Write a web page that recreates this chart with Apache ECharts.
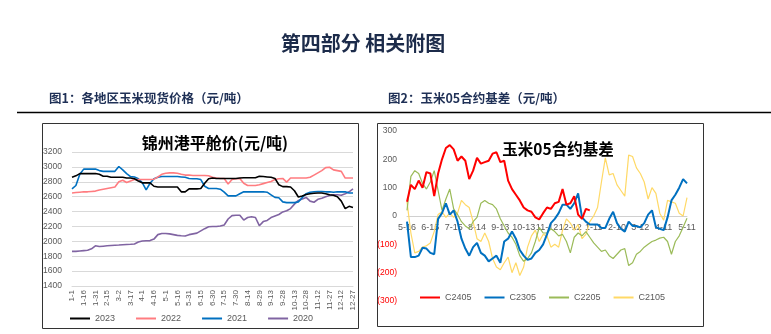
<!DOCTYPE html>
<html><head><meta charset="utf-8">
<script src="https://cdn.jsdelivr.net/npm/echarts@6/dist/echarts.min.js"></script>
<style>html,body{margin:0;padding:0;background:#fff}#c{width:771px;height:334px}</style>
</head><body><div id="c"></div>
<script>
// ---- Chart 1: 锦州港平舱价 (5-day steps) ----
const cats1 = ['1-1','1-6','1-11','1-16','1-21','1-26','1-31','2-5','2-10','2-15','2-20','2-25',
'3-2','3-7','3-12','3-17','3-22','3-27','4-1','4-6','4-11','4-16','4-21','4-26',
'5-1','5-6','5-11','5-16','5-21','5-26','5-31','6-5','6-10','6-15','6-20','6-25','6-30',
'7-5','7-10','7-15','7-20','7-25','7-30','8-4','8-9','8-14','8-19','8-24','8-29',
'9-3','9-8','9-13','9-18','9-23','9-28','10-3','10-8','10-13','10-18','10-23','10-28',
'11-2','11-7','11-12','11-17','11-22','11-27','12-2','12-7','12-12','12-17','12-22','12-27'];
const names1 = ['2023','2022','2021','2020'];
const y2023 = [2860,2880,2910,2910,2910,2910,2910,2900,2875,2875,2860,2860,2860,2860,2850,2850,2840,2810,2785,2785,2785,2740,2730,2730,2730,2730,2730,2730,2665,2665,2705,2705,2705,2710,2780,2840,2850,2845,2845,2845,2845,2845,2845,2850,2855,2855,2855,2855,2875,2870,2865,2860,2845,2760,2735,2735,2730,2680,2595,2610,2630,2640,2645,2650,2650,2640,2625,2620,2600,2540,2440,2470,2455];
const y2022 = [2650,2655,2660,2665,2665,2670,2675,2690,2700,2710,2720,2730,2800,2820,2790,2810,2830,2830,2830,2830,2830,2835,2865,2900,2915,2920,2920,2915,2900,2890,2890,2885,2885,2885,2885,2880,2860,2850,2845,2845,2770,2830,2840,2845,2780,2750,2750,2750,2760,2775,2790,2805,2830,2840,2845,2795,2850,2850,2850,2850,2850,2860,2890,2920,2950,2990,2995,2960,2950,2940,2850,2850,2850];
const y2021 = [2705,2750,2900,2970,2970,2970,2970,2950,2940,2940,2940,2940,3005,2960,2910,2870,2865,2840,2790,2690,2780,2840,2860,2870,2870,2870,2870,2870,2865,2860,2845,2840,2840,2830,2740,2710,2710,2710,2700,2660,2610,2610,2610,2640,2665,2665,2665,2665,2665,2665,2660,2625,2590,2585,2530,2520,2520,2520,2530,2590,2640,2660,2665,2670,2670,2665,2665,2660,2665,2665,2665,2650,2650];
const y2020 = [1865,1865,1870,1875,1880,1900,1940,1930,1935,1940,1945,1948,1950,1955,1958,1960,1965,1990,2005,2008,2010,2030,2090,2105,2105,2100,2090,2080,2075,2072,2090,2100,2110,2140,2170,2195,2200,2200,2205,2220,2300,2345,2350,2350,2285,2320,2330,2320,2210,2265,2280,2320,2340,2360,2395,2410,2440,2500,2550,2570,2590,2540,2525,2565,2580,2600,2615,2625,2625,2620,2640,2665,2705];
const yTicks1 = [1400,1600,1800,2000,2200,2400,2600,2800,3000,3200];

// ---- Chart 2: 玉米05合约基差 (5-day steps from 5-16) ----
const cats2 = ['5-16','5-21','5-26','5-31','6-5','6-10','6-15','6-20','6-25','6-30',
'7-5','7-10','7-15','7-20','7-25','7-30','8-4','8-9','8-14','8-19','8-24','8-29',
'9-3','9-8','9-13','9-18','9-23','9-28','10-3','10-8','10-13','10-18','10-23','10-28',
'11-2','11-7','11-12','11-17','11-22','11-27','12-2','12-7','12-12','12-17','12-22','12-27',
'1-1','1-6','1-11','1-16','1-21','1-26','1-31','2-5','2-10','2-15','2-20','2-25',
'3-2','3-7','3-12','3-17','3-22','3-27','4-1','4-6','4-11','4-16','4-21','4-26','5-1','5-6','5-11'];
const names2 = ['C2405','C2305','C2205','C2105'];
const c2405 = [50,110,95,125,100,155,150,70,150,200,240,250,235,195,210,195,130,160,205,185,190,195,220,225,190,195,125,95,75,55,30,20,15,-5,-12,10,30,25,45,50,95,40,45,70,5,-10,25,20];
const c2305 = [-20,-145,-145,-140,-112,-115,-130,-135,-10,10,45,5,20,-20,-80,-115,-140,-110,-95,-130,-140,-160,-150,-140,-165,-90,-80,-55,-80,-120,-140,-155,-150,-130,-120,-100,-65,-25,-10,10,40,40,25,45,80,-5,-20,-30,-30,-30,-42,-42,-10,15,-25,-45,-55,-20,-35,-35,-40,-25,5,20,-40,-45,-50,-5,55,75,100,130,115];
const c2205 = [20,140,160,150,115,95,120,160,90,20,60,95,25,5,-20,-35,-45,-20,-5,45,55,45,40,25,-10,-35,-60,-75,-100,-140,-160,-150,-130,-90,-40,-60,-60,-45,-55,-70,-65,-90,-130,-75,-60,-70,-55,-75,-95,-110,-125,-120,-140,-150,-135,-120,-115,-175,-165,-135,-125,-110,-100,-90,-85,-78,-75,-90,-135,-90,-70,-40,-8];
const c2105 = [50,-60,-130,-125,-110,-105,-95,-55,5,15,-5,10,-5,10,55,40,30,-20,-80,-90,-60,-90,-150,-180,-190,-165,-145,-200,-165,-210,-180,-110,-70,-50,-90,-65,-70,-110,-100,-110,-50,-10,-25,-50,-30,-80,-65,-20,0,30,120,205,145,150,110,90,70,215,210,170,150,120,60,100,80,10,-15,55,50,45,10,0,65];

const colors1 = ['#000000','#ff7c80','#0070c0','#8064a2'];
const colors2 = {C2405:'#ff0000',C2305:'#0070c0',C2205:'#9bbb59',C2105:'#ffd966'};
const NUMF = 'Liberation Sans, Arial, sans-serif';
const CJK = '"Noto Sans CJK SC", sans-serif';

const chart = echarts.init(document.getElementById('c'), null, {renderer:'canvas'});
const data1 = [y2023,y2022,y2021,y2020];
const data2 = {C2405:c2405,C2305:c2305,C2205:c2205,C2105:c2105};

const series = [];
names1.forEach((n,k)=>series.push({name:n,type:'line',xAxisIndex:0,yAxisIndex:0,data:data1[k],
  showSymbol:false,symbol:'none',lineStyle:{width:1.6,color:colors1[k]},itemStyle:{color:colors1[k]},z:2+(3-k)}));
['C2105','C2205','C2305','C2405'].forEach((n,k)=>series.push({name:n,type:'line',xAxisIndex:1,yAxisIndex:1,data:data2[n],
  showSymbol:false,symbol:'none',lineStyle:{width:(n==='C2405'||n==='C2305')?2:1.2,color:colors2[n]},itemStyle:{color:colors2[n]},z:2+k}));

chart.setOption({
  animation:false,
  backgroundColor:'#fff',
  title:[
    {text:'第四部分 相关附图',left:358,top:28,textAlign:'center',textStyle:{fontFamily:CJK,fontSize:20,fontWeight:'bold',color:'#1c2b4a'}},
    {text:'图1：各地区玉米现货价格（元/吨）',left:44,top:87,textStyle:{fontFamily:CJK,fontSize:12.5,fontWeight:'bold',color:'#1f3056'}},
    {text:'图2：玉米05合约基差（元/吨）',left:383,top:87,textStyle:{fontFamily:CJK,fontSize:12.5,fontWeight:'bold',color:'#1f3056'}},
    {text:'锦州港平舱价(元/吨)',left:210,top:130,textAlign:'center',textStyle:{fontFamily:CJK,fontSize:16,fontWeight:'bold',color:'#000'}},
    {text:'玉米05合约基差',left:553,top:136,textAlign:'center',textStyle:{fontFamily:CJK,fontSize:15.5,fontWeight:'bold',color:'#000'}}
  ],
  graphic:[
    {type:'line',shape:{x1:17,y1:112.5,x2:771,y2:112.5},style:{stroke:'#000',lineWidth:1.5}},
    {type:'rect',shape:{x:42.5,y:123.5,width:316,height:205},style:{fill:'none',stroke:'#333',lineWidth:1}},
    {type:'rect',shape:{x:377.5,y:123.5,width:326,height:203},style:{fill:'none',stroke:'#333',lineWidth:1}}
  ],
  legend:[
    {data:names1,left:70,top:314,padding:0,itemWidth:20,itemHeight:2,icon:'rect',itemGap:21,
     textStyle:{fontFamily:NUMF,fontSize:9,color:'#595959'}},
    {data:names2,left:420,top:293,padding:0,itemWidth:20,itemHeight:2,icon:'rect',itemGap:13,
     textStyle:{fontFamily:NUMF,fontSize:9,color:'#595959'}}
  ],
  grid:[
    {left:72,top:152,width:281,height:134},
    {left:407,top:131,width:280,height:170}
  ],
  xAxis:[
    {type:'category',gridIndex:0,data:cats1,boundaryGap:false,
     axisLine:{lineStyle:{color:'#d9d9d9'}},axisTick:{show:false},
     axisLabel:{interval:2,rotate:90,margin:4,fontFamily:NUMF,fontSize:8,color:'#595959'}},
    {type:'category',gridIndex:1,data:cats2,boundaryGap:false,position:'bottom',offset:-85,
     axisLine:{onZero:false,lineStyle:{color:'#d0d0d0'}},axisTick:{show:false},
     axisLabel:{interval:5,margin:7,fontFamily:NUMF,fontSize:9,color:'#595959'}}
  ],
  yAxis:[
    {type:'value',gridIndex:0,min:yTicks1[0],max:yTicks1[yTicks1.length-1],interval:200,
     axisLine:{show:false},axisTick:{show:false},
     splitLine:{lineStyle:{color:'#d9d9d9'}},
     axisLabel:{margin:10,fontFamily:NUMF,fontSize:8.5,color:'#595959',formatter:v=>String(v)}},
    {type:'value',gridIndex:1,min:-300,max:300,interval:100,
     axisLine:{show:false},axisTick:{show:false},splitLine:{show:false},
     axisLabel:{margin:10,fontFamily:NUMF,fontSize:8.5,
       formatter:v=> v<0 ? '{n|('+(-v)+')}' : '{p|'+v+'}',
       rich:{n:{color:'#ff0000',fontFamily:NUMF,fontSize:8.5},p:{color:'#595959',fontFamily:NUMF,fontSize:8.5}}}}
  ],
  series:series
});
</script></body></html>
